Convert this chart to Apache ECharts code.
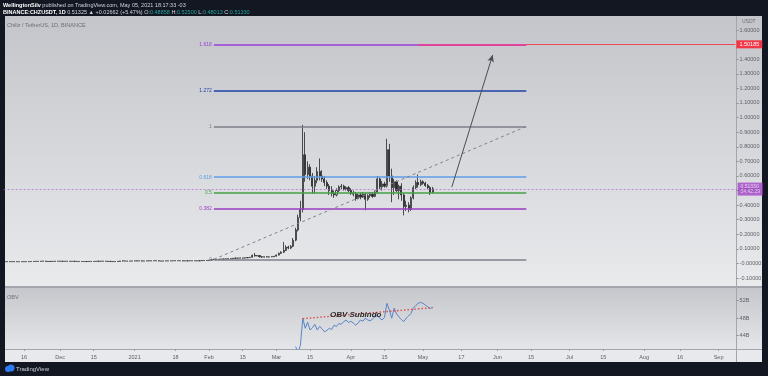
<!DOCTYPE html>
<html>
<head>
<meta charset="utf-8">
<script src="https://cdn.jsdelivr.net/npm/echarts@6/dist/echarts.min.js"></script>
<style>
html, body { margin: 0; padding: 0; background: #131722; }
#chart { width: 768px; height: 376px; }
</style>
</head>
<body>
<div id="chart"></div>
<script>
// CHZ/USDT daily candles, [open, close, low, high]
const candlesNov = [
  [0.0128, 0.0126, 0.0123, 0.0131], [0.0126, 0.0130, 0.0124, 0.0133], [0.0130, 0.0129, 0.0126, 0.0133],
  [0.0129, 0.0131, 0.0127, 0.0134], [0.0131, 0.0127, 0.0125, 0.0133], [0.0127, 0.0128, 0.0124, 0.0131],
  [0.0128, 0.0125, 0.0122, 0.0130], [0.0125, 0.0126, 0.0121, 0.0128], [0.0126, 0.0130, 0.0125, 0.0133],
  [0.0130, 0.0129, 0.0126, 0.0134], [0.0129, 0.0133, 0.0127, 0.0137], [0.0133, 0.0138, 0.0131, 0.0142],
  [0.0138, 0.0145, 0.0136, 0.0150], [0.0145, 0.0152, 0.0141, 0.0160], [0.0152, 0.0149, 0.0143, 0.0158],
  [0.0149, 0.0158, 0.0147, 0.0166], [0.0158, 0.0165, 0.0152, 0.0178], [0.0165, 0.0148, 0.0135, 0.0170],
  [0.0148, 0.0140, 0.0128, 0.0152], [0.0140, 0.0146, 0.0136, 0.0150], [0.0146, 0.0150, 0.0142, 0.0156],
  [0.0150, 0.0156, 0.0147, 0.0162], [0.0156, 0.0160, 0.0150, 0.0166]
];
const candlesDec = [
  [0.0160, 0.0155, 0.0150, 0.0166], [0.0155, 0.0152, 0.0146, 0.0160], [0.0152, 0.0156, 0.0149, 0.0160],
  [0.0156, 0.0150, 0.0144, 0.0158], [0.0150, 0.0153, 0.0147, 0.0157], [0.0153, 0.0151, 0.0148, 0.0156],
  [0.0151, 0.0149, 0.0145, 0.0155], [0.0149, 0.0143, 0.0139, 0.0152], [0.0143, 0.0141, 0.0136, 0.0146],
  [0.0141, 0.0138, 0.0134, 0.0144], [0.0138, 0.0136, 0.0131, 0.0141], [0.0136, 0.0140, 0.0134, 0.0142],
  [0.0140, 0.0143, 0.0138, 0.0146], [0.0143, 0.0141, 0.0139, 0.0147], [0.0141, 0.0145, 0.0140, 0.0148],
  [0.0145, 0.0152, 0.0143, 0.0156], [0.0152, 0.0160, 0.0148, 0.0166], [0.0160, 0.0156, 0.0151, 0.0163],
  [0.0156, 0.0158, 0.0153, 0.0162], [0.0158, 0.0154, 0.0150, 0.0161], [0.0154, 0.0146, 0.0138, 0.0157],
  [0.0146, 0.0140, 0.0132, 0.0149], [0.0140, 0.0134, 0.0126, 0.0143], [0.0134, 0.0139, 0.0131, 0.0142],
  [0.0139, 0.0145, 0.0136, 0.0148], [0.0145, 0.0172, 0.0143, 0.0185], [0.0172, 0.0180, 0.0160, 0.0215],
  [0.0180, 0.0168, 0.0162, 0.0190], [0.0168, 0.0165, 0.0158, 0.0174], [0.0165, 0.0170, 0.0160, 0.0176],
  [0.0170, 0.0176, 0.0166, 0.0180]
];
const candlesJan = [
  [0.0176, 0.0185, 0.0170, 0.0190], [0.0185, 0.0178, 0.0166, 0.0192], [0.0178, 0.0182, 0.0170, 0.0195],
  [0.0182, 0.0170, 0.0152, 0.0186], [0.0170, 0.0176, 0.0162, 0.0180], [0.0176, 0.0183, 0.0172, 0.0188],
  [0.0183, 0.0180, 0.0174, 0.0190], [0.0180, 0.0186, 0.0172, 0.0194], [0.0186, 0.0195, 0.0182, 0.0200],
  [0.0195, 0.0188, 0.0178, 0.0202], [0.0188, 0.0172, 0.0158, 0.0192], [0.0172, 0.0168, 0.0160, 0.0178],
  [0.0168, 0.0176, 0.0164, 0.0180], [0.0176, 0.0181, 0.0172, 0.0186], [0.0181, 0.0178, 0.0170, 0.0184],
  [0.0178, 0.0184, 0.0175, 0.0188], [0.0184, 0.0190, 0.0180, 0.0196], [0.0190, 0.0196, 0.0186, 0.0202],
  [0.0196, 0.0193, 0.0188, 0.0204], [0.0193, 0.0189, 0.0181, 0.0197], [0.0189, 0.0178, 0.0170, 0.0192],
  [0.0178, 0.0184, 0.0172, 0.0188], [0.0184, 0.0187, 0.0180, 0.0190], [0.0187, 0.0191, 0.0183, 0.0195],
  [0.0191, 0.0186, 0.0180, 0.0196], [0.0186, 0.0190, 0.0182, 0.0194], [0.0190, 0.0184, 0.0178, 0.0193],
  [0.0184, 0.0196, 0.0181, 0.0200], [0.0196, 0.0214, 0.0190, 0.0226], [0.0214, 0.0205, 0.0198, 0.0220],
  [0.0205, 0.0212, 0.0200, 0.0218]
];
const candlesFeb = [
  [0.0212, 0.0230, 0.0205, 0.0242], [0.0230, 0.0262, 0.0225, 0.0275], [0.0262, 0.0290, 0.0255, 0.0320],
  [0.0290, 0.0275, 0.0262, 0.0305], [0.0275, 0.0296, 0.0268, 0.0302], [0.0296, 0.0310, 0.0288, 0.0324],
  [0.0310, 0.0298, 0.0280, 0.0318], [0.0298, 0.0322, 0.0290, 0.0330], [0.0322, 0.0335, 0.0312, 0.0350],
  [0.0335, 0.0328, 0.0315, 0.0348], [0.0328, 0.0360, 0.0322, 0.0372], [0.0360, 0.0375, 0.0348, 0.0392],
  [0.0375, 0.0368, 0.0355, 0.0385], [0.0368, 0.0382, 0.0360, 0.0396], [0.0382, 0.0370, 0.0352, 0.0390],
  [0.0370, 0.0392, 0.0365, 0.0405], [0.0392, 0.0410, 0.0385, 0.0425], [0.0410, 0.0428, 0.0400, 0.0445],
  [0.0428, 0.0560, 0.0420, 0.0620], [0.0560, 0.0520, 0.0470, 0.0720], [0.0520, 0.0545, 0.0500, 0.0580],
  [0.0545, 0.0470, 0.0410, 0.0560], [0.0470, 0.0440, 0.0380, 0.0490], [0.0440, 0.0462, 0.0425, 0.0480],
  [0.0462, 0.0448, 0.0430, 0.0485], [0.0448, 0.0455, 0.0420, 0.0470], [0.0455, 0.0470, 0.0445, 0.0490],
  [0.0470, 0.0500, 0.0455, 0.0512]
];
const candlesMar = [
  [0.050, 0.058, 0.048, 0.061], [0.058, 0.070, 0.0555, 0.075], [0.070, 0.078, 0.066, 0.084],
  [0.078, 0.090, 0.072, 0.148], [0.090, 0.112, 0.085, 0.125], [0.112, 0.106, 0.098, 0.122],
  [0.106, 0.118, 0.100, 0.126], [0.118, 0.160, 0.112, 0.175], [0.160, 0.230, 0.152, 0.245],
  [0.230, 0.315, 0.220, 0.335], [0.315, 0.370, 0.290, 0.430], [0.370, 0.745, 0.350, 0.950],
  [0.745, 0.610, 0.560, 0.900], [0.610, 0.660, 0.580, 0.700], [0.660, 0.600, 0.570, 0.680],
  [0.600, 0.530, 0.480, 0.620], [0.530, 0.570, 0.480, 0.600], [0.570, 0.630, 0.550, 0.660],
  [0.630, 0.600, 0.570, 0.720], [0.600, 0.580, 0.560, 0.640], [0.580, 0.555, 0.530, 0.600],
  [0.555, 0.530, 0.510, 0.570], [0.530, 0.500, 0.470, 0.545], [0.500, 0.480, 0.460, 0.530],
  [0.480, 0.470, 0.450, 0.500], [0.470, 0.500, 0.460, 0.515], [0.500, 0.525, 0.490, 0.535],
  [0.525, 0.530, 0.510, 0.545], [0.530, 0.510, 0.500, 0.540], [0.510, 0.520, 0.500, 0.530],
  [0.520, 0.500, 0.490, 0.530]
];
const candlesApr = [
  [0.500, 0.480, 0.470, 0.515], [0.480, 0.475, 0.460, 0.500], [0.475, 0.445, 0.430, 0.490],
  [0.445, 0.470, 0.440, 0.480], [0.470, 0.455, 0.440, 0.485], [0.455, 0.475, 0.450, 0.490],
  [0.475, 0.440, 0.365, 0.485], [0.440, 0.465, 0.430, 0.475], [0.465, 0.475, 0.450, 0.490],
  [0.475, 0.460, 0.450, 0.490], [0.460, 0.490, 0.455, 0.500], [0.490, 0.580, 0.480, 0.600],
  [0.580, 0.525, 0.510, 0.590], [0.525, 0.545, 0.500, 0.565], [0.545, 0.530, 0.520, 0.560],
  [0.530, 0.780, 0.520, 0.855], [0.780, 0.600, 0.560, 0.820], [0.600, 0.520, 0.420, 0.650],
  [0.520, 0.560, 0.470, 0.580], [0.560, 0.500, 0.490, 0.570], [0.500, 0.530, 0.440, 0.540],
  [0.530, 0.470, 0.430, 0.550], [0.470, 0.390, 0.330, 0.480], [0.390, 0.400, 0.360, 0.430],
  [0.400, 0.370, 0.350, 0.420], [0.370, 0.450, 0.360, 0.460], [0.450, 0.520, 0.440, 0.535],
  [0.520, 0.555, 0.510, 0.570], [0.555, 0.540, 0.520, 0.610], [0.540, 0.560, 0.530, 0.575]
];
const candlesMay = [
  [0.560, 0.550, 0.540, 0.570], [0.550, 0.535, 0.525, 0.560], [0.535, 0.520, 0.510, 0.545],
  [0.520, 0.4866, 0.470, 0.530], [0.48858, 0.51330, 0.48013, 0.52500]
];

// On Balance Volume (billions), daily from obvStart
const obvStart = '2021-03-09';
const obvValues = [
  41.5, 40.2, 41.8, 48.0, 45.7, 47.1, 45.3, 45.8, 46.6, 45.3, 46.1, 45.6, 44.9, 45.2, 45.7, 45.4,
  46.4, 46.1, 46.8, 46.6, 47.2, 47.6, 47.0,
  47.3, 46.9, 46.4, 46.9, 47.6, 47.3, 48.0, 47.6, 47.4, 47.8, 48.3, 48.6, 48.0, 47.6, 48.2, 51.4,
  49.9, 48.0, 50.3, 49.0, 48.3, 47.7, 47.2, 48.0, 48.5, 49.1, 50.3, 50.9, 51.4, 51.6,
  51.4, 51.0, 50.6, 50.2, 50.5
];

const firstDate = '2020-11-08';
const dayCount = 305;
const priceTicks = [-0.1, 0, 0.1, 0.2, 0.3, 0.4, 0.5, 0.6, 0.7, 0.8, 0.9, 1.0, 1.1, 1.2, 1.3, 1.4, 1.6];
const obvTicks = [44, 48, 52];
const timeLabels = [
  ['2020-11-16', '16'], ['2020-12-01', 'Dec'], ['2020-12-15', '15'], ['2021-01-01', '2021'],
  ['2021-01-18', '18'], ['2021-02-01', 'Feb'], ['2021-02-15', '15'], ['2021-03-01', 'Mar'],
  ['2021-03-15', '15'], ['2021-04-01', 'Apr'], ['2021-04-15', '15'], ['2021-05-01', 'May'],
  ['2021-05-17', '17'], ['2021-06-01', 'Jun'], ['2021-06-15', '15'], ['2021-07-01', 'Jul'],
  ['2021-07-15', '15'], ['2021-08-01', 'Aug'], ['2021-08-16', '16'], ['2021-09-01', 'Sep']
];

// drawings
const fibRatios = [0, 0.382, 0.5, 0.618, 1, 1.272, 1.618];
const fibLow = 0.029, fibHigh = 0.9393;
const fibStart = '2021-02-03', fibEnd = '2021-06-13';
const rayStart = '2021-04-29', rayPrice = 1.50185;
const lastPrice = 0.5133;
const arrowFrom = ['2021-05-13', 0.524], arrowTo = ['2021-05-30', 1.429];
const obvTrend = [['2021-03-12', 47.9], ['2021-05-05', 50.4]];
const obvNote = ['2021-04-03', 48.7];

const fibColors = ['#7d8089', '#9c3cc4', '#43a047', '#5c9ee8', '#7d8089', '#1f42a8', '#9c3ed8'];

const dates = [];
const t0 = Date.parse(firstDate + 'T00:00:00Z');
for (let i = 0; i < dayCount; i++) {
  dates.push(new Date(t0 + i * 86400000).toISOString().slice(0, 10));
}
const candles = candlesNov.concat(candlesDec, candlesJan, candlesFeb, candlesMar, candlesApr, candlesMay);
const obvData = dates.map(() => null);
const obvIdx = dates.indexOf(obvStart);
obvValues.forEach((v, i) => { obvData[obvIdx + i] = v; });
const labelMap = {};
timeLabels.forEach(t => { labelMap[t[0]] = t[1]; });

const font = 'Liberation Sans, Arial, sans-serif';
const axisGray = '#5b5e68';

const fibLines = fibRatios.map((r, i) => {
  const v = fibLow + r * (fibHigh - fibLow);
  return [
    { coord: [fibStart, v], lineStyle: { color: fibColors[i], width: 1.5, type: 'solid' },
      label: { show: true, position: 'start', formatter: String(r), color: fibColors[i], fontSize: 5, distance: 2, fontFamily: font } },
    { coord: [fibEnd, v] }
  ];
});

const chart = echarts.init(document.getElementById('chart'));
const option = {
  animation: false,
  backgroundColor: '#131722',
  textStyle: { fontFamily: font },
  graphic: [
    { type: 'rect', z: -10, shape: { x: 5, y: 16, width: 757, height: 270 },
      style: { fill: new echarts.graphic.LinearGradient(0, 0, 0, 1, [{ offset: 0, color: '#c3c5ca' }, { offset: 1, color: '#e9eaec' }]) } },
    { type: 'rect', z: -10, shape: { x: 5, y: 286, width: 757, height: 2 }, style: { fill: '#a3a6ac' } },
    { type: 'rect', z: -10, shape: { x: 5, y: 288, width: 757, height: 61 },
      style: { fill: new echarts.graphic.LinearGradient(0, 0, 0, 1, [{ offset: 0, color: '#c5c7cc' }, { offset: 1, color: '#e5e6e9' }]) } },
    { type: 'rect', z: -10, shape: { x: 5, y: 349, width: 757, height: 1 }, style: { fill: '#a3a6ac' } },
    { type: 'rect', z: -10, shape: { x: 5, y: 350, width: 757, height: 12 }, style: { fill: '#e8e9ec' } },
    { type: 'rect', z: -9, shape: { x: 736, y: 16, width: 1, height: 346 }, style: { fill: '#a3a6ac' } },
    { type: 'text', x: 3, y: 2, style: {
      text: '{b|WellingtonSilv} published on TradingView.com, May 05, 2021 18:17:33 -03',
      fill: '#d1d4dc', fontSize: 5.5, fontFamily: font, rich: { b: { fontWeight: 'bold', fill: '#ffffff', fontSize: 5.5 } } } },
    { type: 'text', x: 3, y: 9, style: {
      text: '{b|BINANCE:CHZUSDT, 1D} 0.51325 \u25b2 +0.02662 (+5.47%) O:{g|0.48858} H:{g|0.52500} L:{g|0.48013} C:{g|0.51330}',
      fill: '#d1d4dc', fontSize: 5.5, fontFamily: font,
      rich: { b: { fontWeight: 'bold', fill: '#ffffff', fontSize: 5.5 }, g: { fill: '#26a69a', fontSize: 5.5 } } } },
    { type: 'text', x: 7, y: 22, style: { text: 'Chiliz / TetherUS, 1D, BINANCE', fill: '#6b6e78', fontSize: 5.5, fontFamily: font } },
    { type: 'text', x: 7, y: 294, style: { text: 'OBV', fill: '#6b6e78', fontSize: 5.5, fontFamily: font } },
    { type: 'text', x: 742, y: 19, style: { text: 'USDT', fill: '#6b6e78', fontSize: 5, fontFamily: font } },
    { type: 'circle', shape: { cx: 8, cy: 369, r: 3 }, style: { fill: '#2e7bf6' } },
    { type: 'circle', shape: { cx: 11, cy: 368, r: 3.5 }, style: { fill: '#2e7bf6' } },
    { type: 'text', x: 16, y: 366, style: { text: 'TradingView', fill: '#d1d4dc', fontSize: 6, fontFamily: font } }
  ],
  grid: [
    { left: 3.6, top: 16, width: 733, height: 270 },
    { left: 3.6, top: 288, width: 733, height: 61 }
  ],
  xAxis: [
    { type: 'category', gridIndex: 0, data: dates, boundaryGap: true,
      axisLine: { show: false }, axisTick: { show: false }, axisLabel: { show: false }, splitLine: { show: false } },
    { type: 'category', gridIndex: 1, data: dates, boundaryGap: true,
      axisLine: { show: false },
      axisTick: { show: true, alignWithLabel: true, length: 2, interval: (i, v) => !!labelMap[v], lineStyle: { color: '#9a9da5' } },
      axisLabel: { show: true, interval: (i, v) => !!labelMap[v], formatter: v => labelMap[v] || '',
        fontSize: 5.5, color: axisGray, margin: 5, fontFamily: font },
      splitLine: { show: false } }
  ],
  yAxis: [
    { type: 'value', gridIndex: 0, position: 'right', min: -0.154, max: 1.696, scale: true,
      axisLine: { show: false }, splitLine: { show: false },
      axisTick: { show: true, length: 2, customValues: priceTicks, lineStyle: { color: '#8e919a' } },
      axisLabel: { customValues: priceTicks, formatter: v => (Math.abs(v) < 1e-9 ? '-0.00000' : v.toFixed(5)),
        fontSize: 5.5, color: axisGray, margin: 3, fontFamily: font } },
    { type: 'value', gridIndex: 1, position: 'right', min: 40.96, max: 54.9, scale: true,
      axisLine: { show: false }, splitLine: { show: false },
      axisTick: { show: true, length: 2, customValues: obvTicks, lineStyle: { color: '#8e919a' } },
      axisLabel: { customValues: obvTicks, formatter: v => v + 'B', fontSize: 5.5, color: axisGray, margin: 3, fontFamily: font } }
  ],
  series: [
    {
      name: 'CHZUSDT', type: 'candlestick', xAxisIndex: 0, yAxisIndex: 0,
      data: candles, barWidth: 1.6,
      itemStyle: { color: '#eeeeee', borderColor: '#262628', color0: '#262628', borderColor0: '#262628', borderWidth: 0.8 },
      markLine: {
        silent: true, symbol: ['none', 'none'], animation: false,
        data: fibLines.concat([
          [{ coord: [fibStart, fibLow], lineStyle: { color: '#80838c', type: [3, 3], width: 1 }, label: { show: false } },
           { coord: [fibEnd, fibHigh] }],
          [{ coord: [rayStart, rayPrice], lineStyle: { color: '#e0449a', width: 2, type: 'solid' }, label: { show: false } },
           { coord: [fibEnd, rayPrice] }],
          [{ coord: [fibEnd, rayPrice], lineStyle: { color: '#ef4a58', width: 1, type: 'solid' },
             label: { show: true, position: 'end', formatter: '1.50185', backgroundColor: '#f23645', color: '#ffffff',
               fontSize: 5.5, padding: [1, 3], distance: 1, fontFamily: font } },
           { coord: [dates[dates.length - 1], rayPrice] }],
          [{ coord: arrowFrom, symbol: 'none', lineStyle: { color: '#4a4d55', width: 1, type: 'solid' }, label: { show: false } },
           { coord: arrowTo, symbol: 'arrow', symbolSize: [5, 7] }],
          { yAxis: lastPrice, lineStyle: { color: '#a868c4', type: [2, 2], width: 1, opacity: 0.7 },
            label: { show: true, position: 'end', formatter: '0.51330\n04:42:29', backgroundColor: '#9c2fc4', color: '#ffffff',
              fontSize: 5, lineHeight: 5.5, padding: [1, 3], distance: 1, fontFamily: font } }
        ])
      }
    },
    {
      name: 'OBV', type: 'line', xAxisIndex: 1, yAxisIndex: 1,
      data: obvData, showSymbol: false, connectNulls: false, clip: true,
      lineStyle: { color: '#5a84c6', width: 1 }, itemStyle: { color: '#5a84c6' },
      markLine: {
        silent: true, symbol: ['none', 'none'], animation: false,
        data: [[{ coord: obvTrend[0], lineStyle: { color: '#e04a4a', type: [1.5, 2], width: 1.4 }, label: { show: false } },
                { coord: obvTrend[1] }]]
      },
      markPoint: {
        silent: true, animation: false,
        data: [{ coord: obvNote, symbol: 'circle', symbolSize: 0,
          label: { show: true, position: 'inside', formatter: 'OBV Subindo', fontStyle: 'italic', fontWeight: 'bold',
            fontSize: 8, color: '#2b2b2b', fontFamily: font } }]
      }
    }
  ]
};
chart.setOption(option);
</script>
</body>
</html>
